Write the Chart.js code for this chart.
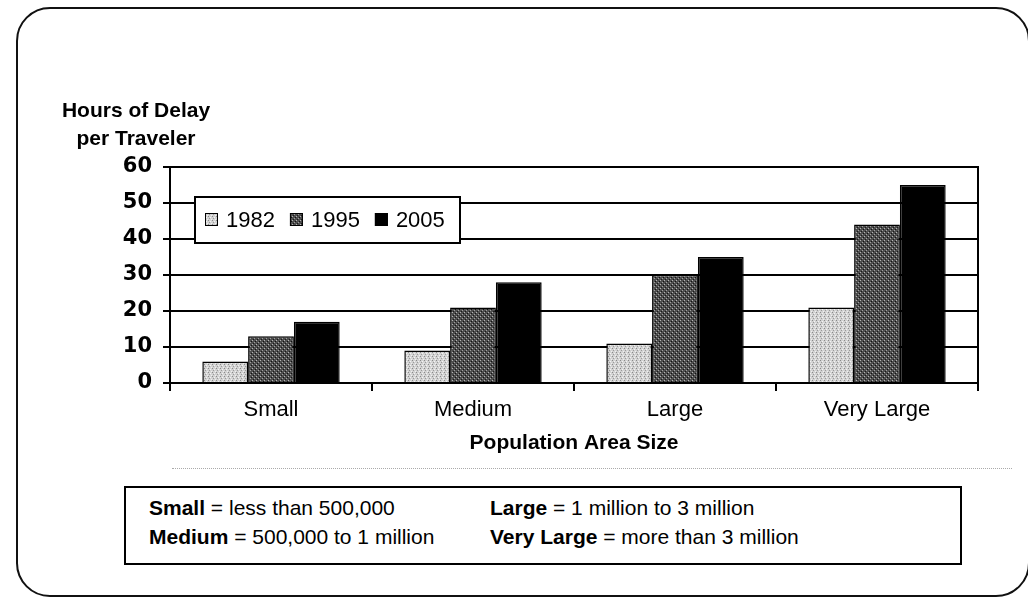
<!DOCTYPE html>
<html lang="en">
<head>
<meta charset="UTF-8">
<title>Hours of Delay per Traveler</title>
<script src="https://cdn.jsdelivr.net/npm/chart.js"></script>
<style>
    html, body { margin: 0; padding: 0; background: #fff; }
    body { width: 1028px; height: 597px; position: relative; overflow: hidden; font-family: "Liberation Sans", Arial, sans-serif; color: #000; }
    .frame { position: absolute; left: 16px; top: 7px; width: 1014px; height: 590px; border: 2px solid #111; border-radius: 34px; box-sizing: border-box; }
    .chart-wrap { position: absolute; left: 0; top: 0; width: 1028px; height: 480px; }
    .scan-line { position: absolute; left: 172px; top: 468px; width: 840px; border-top: 1px dotted #aaa; }
    .key { position: absolute; left: 124px; top: 486px; width: 838px; height: 79px; border: 2px solid #000; box-sizing: border-box; }
    .key div { position: absolute; font-size: 21px; line-height: 21px; white-space: nowrap; }
    .key b { font-weight: bold; }
</style>
</head>
<body>
    <div class="frame"></div>
    <div class="chart-wrap"><canvas id="delayChart"></canvas></div>
    <div class="scan-line"></div>

    <!-- size key under the chart -->
    <div class="key">
        <div style="left:23px; top:9px;"><b>Small</b> = less than 500,000</div>
        <div style="left:23px; top:38px;"><b>Medium</b> = 500,000 to 1 million</div>
        <div style="left:364px; top:9px;"><b>Large</b> = 1 million to 3 million</div>
        <div style="left:364px; top:38px;"><b>Very Large</b> = more than 3 million</div>
    </div>

<script>
    // Chart data
    var categories = ['Small', 'Medium', 'Large', 'Very Large'];
    var years = ['1982', '1995', '2005'];
    var delay1982 = [6, 9, 11, 21];
    var delay1995 = [13, 21, 30, 44];
    var delay2005 = [17, 28, 35, 55];
    var yTicks = [0, 10, 20, 30, 40, 50, 60];
    var yTitle = ['Hours of Delay', 'per Traveler'];
    var xTitle = 'Population Area Size';

    // small fixed stipple patterns, like the printed screens
    function makePattern(base, dots) {
        var c = document.createElement('canvas');
        c.width = 4;
        c.height = 4;
        var g = c.getContext('2d');
        g.fillStyle = base;
        g.fillRect(0, 0, 4, 4);
        dots.forEach(function (d) {
            g.fillStyle = d[2];
            g.fillRect(d[0], d[1], 1, 1);
        });
        return g.createPattern(c, 'repeat');
    }

    var light = makePattern('#d2d2d2', [[0, 0, '#8a8a8a'], [2, 1, '#f4f4f4'], [1, 2, '#9a9a9a'], [3, 3, '#f0f0f0']]);
    var dark = makePattern('#4e4e4e', [[0, 0, '#b4b4b4'], [2, 2, '#a0a0a0'], [1, 3, '#1a1a1a'], [3, 1, '#111111']]);

    // legend box, right border and the axis title drawn over the chart
    var extras = {
        id: 'extras',
        afterDraw: function (chart) {
            var ctx = chart.ctx;
            var a = chart.chartArea;
            ctx.save();

            ctx.strokeStyle = '#000';
            ctx.lineWidth = 2;
            ctx.beginPath();
            ctx.moveTo(a.right, a.top - 1);
            ctx.lineTo(a.right, a.bottom + 1);
            ctx.stroke();

            ctx.fillStyle = '#000';
            ctx.font = 'bold 21px "Liberation Sans"';
            ctx.textAlign = 'center';
            ctx.textBaseline = 'alphabetic';
            ctx.fillText(yTitle[0], a.left - 34, a.top - 50);
            ctx.fillText(yTitle[1], a.left - 34, a.top - 22);

            var bx = a.left + 25, by = a.top + 30, bw = 265, bh = 46;
            ctx.fillStyle = '#fff';
            ctx.fillRect(bx, by, bw, bh);
            ctx.strokeRect(bx, by, bw, bh);

            ctx.font = '22px "Liberation Sans"';
            ctx.textAlign = 'left';
            ctx.textBaseline = 'middle';
            var x = bx + 10, cy = by + bh / 2;
            chart.data.datasets.forEach(function (ds) {
                ctx.fillStyle = ds.backgroundColor;
                ctx.fillRect(x, cy - 7, 13, 13);
                ctx.lineWidth = 1;
                ctx.strokeRect(x + 0.5, cy - 6.5, 12, 12);
                x += 21;
                ctx.fillStyle = '#000';
                ctx.fillText(ds.label, x, cy + 1);
                x += ctx.measureText(ds.label).width + 15;
            });
            ctx.restore();
        }
    };

    new Chart(document.getElementById('delayChart'), {
        type: 'bar',
        data: {
            labels: categories,
            datasets: [
                { label: years[0], data: delay1982, backgroundColor: light, borderColor: '#000', borderWidth: 1.5 },
                { label: years[1], data: delay1995, backgroundColor: dark, borderColor: '#000', borderWidth: 1.5 },
                { label: years[2], data: delay2005, backgroundColor: '#000', borderColor: '#000', borderWidth: 1.5 }
            ]
        },
        options: {
            responsive: true,
            maintainAspectRatio: false,
            animation: false,
            layout: { padding: { left: 122, right: 50, top: 167, bottom: 0 } },
            datasets: { bar: { categoryPercentage: 0.68, barPercentage: 1.0 } },
            plugins: { legend: { display: false }, tooltip: { enabled: false } },
            scales: {
                x: {
                    grid: { display: true, drawOnChartArea: false, offset: true, color: '#000', lineWidth: 2, tickLength: 8 },
                    border: { display: true, color: '#000', width: 2 },
                    ticks: { color: '#000', padding: 6, font: { family: 'Liberation Sans', size: 22 } },
                    title: {
                        display: true,
                        text: xTitle,
                        color: '#000',
                        font: { family: 'Liberation Sans', size: 21, weight: 'bold' },
                        padding: { top: 0, bottom: 24 }
                    },
                    afterFit: function (scale) { scale.height = 97; }
                },
                y: {
                    min: yTicks[0],
                    max: yTicks[yTicks.length - 1],
                    afterBuildTicks: function (scale) {
                        scale.ticks = yTicks.map(function (v) { return { value: v }; });
                    },
                    grid: { color: '#000', lineWidth: 2, tickLength: 7 },
                    border: { display: true, color: '#000', width: 2 },
                    ticks: { color: '#000', padding: 11, font: { family: 'DejaVu Sans', size: 21, weight: 'bold' } },
                    afterFit: function (scale) { scale.width = 48; }
                }
            }
        },
        plugins: [extras]
    });
</script>
</body>
</html>
